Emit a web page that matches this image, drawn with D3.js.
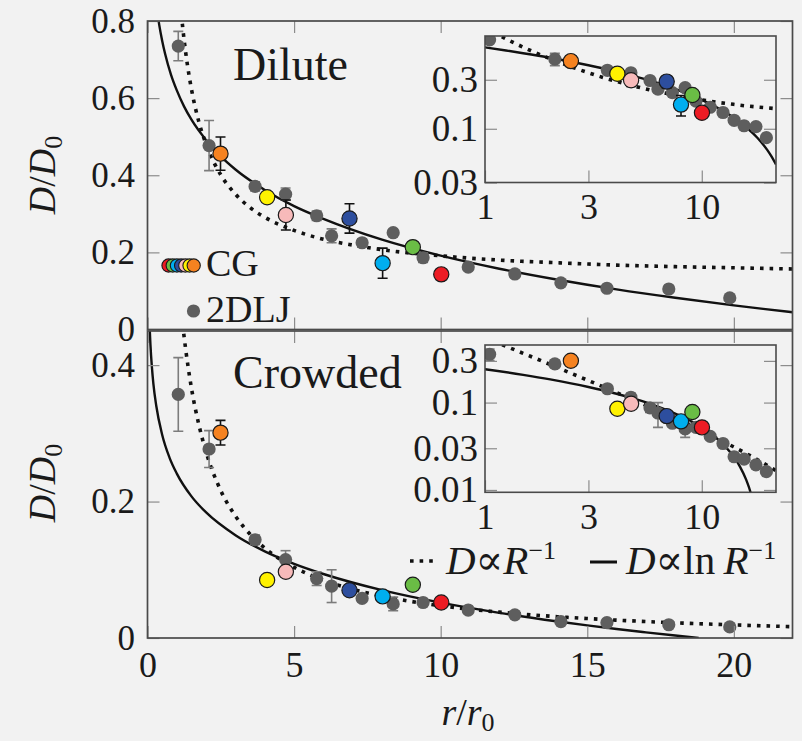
<!DOCTYPE html>
<html><head><meta charset="utf-8">
<script src="https://cdn.jsdelivr.net/npm/d3@7"></script>
<style>body{margin:0;background:#f2f2f2;} svg{display:block}</style>
</head><body>
<script>
// ---------------- DATA ----------------
const ljR = [1.05, 2.10, 3.67, 4.71, 5.77, 6.28, 7.32, 8.38, 9.40, 10.94, 12.53, 14.10, 15.67, 17.78, 19.86];
const ljDilute = [0.735, 0.477, 0.371, 0.351, 0.295, 0.243, 0.225, 0.251, 0.186, 0.162, 0.144, 0.121, 0.107, 0.105, 0.082];
const ljDiluteErr = [0.038, 0.065, 0.012, 0.016, 0.012, 0.018, 0.010, 0, 0.012, 0, 0, 0, 0, 0, 0];
const ljCrowded = [0.357, 0.277, 0.144, 0.115, 0.087, 0.076, 0.058, 0.050, 0.052, 0.041, 0.034, 0.024, 0.0225, 0.0194, 0.0162];
const ljCrowdedErr = [0.054, 0.027, 0.007, 0.013, 0.010, 0.024, 0.005, 0.010, 0, 0, 0, 0, 0, 0, 0];

const cgR = [2.49, 4.08, 4.72, 6.89, 8.02, 9.05, 10.02];
const cgDilute = [0.456, 0.343, 0.297, 0.288, 0.172, 0.2135, 0.143];
const cgDiluteErr = [0.043, 0.008, 0.039, 0.038, 0.039, 0, 0.012];
const cgCrowded = [0.301, 0.085, 0.097, 0.070, 0.061, 0.078, 0.052];
const cgCrowdedErr = [0.018, 0.006, 0.005, 0, 0, 0, 0];

// fitted curves
const lnDiluteR = [0.35, 0.4, 0.5, 0.6, 0.8, 1, 1.25, 1.5, 2, 2.5, 3, 4, 5, 6, 8, 10, 12, 14, 16, 18, 20, 21, 22];
const lnDilute  = [0.815, 0.790, 0.749, 0.715, 0.661, 0.620, 0.578, 0.544, 0.491, 0.449, 0.415, 0.362, 0.320, 0.287, 0.233, 0.1915, 0.1576, 0.129, 0.104, 0.0822, 0.0626, 0.0535, 0.0449];
const invDiluteR = [1.0, 1.05, 1.1, 1.15, 1.2, 1.3, 1.4, 1.5, 1.75, 2, 2.5, 3, 3.5, 4, 5, 6, 7, 8, 10, 12, 14, 16, 18, 20, 22];
const invDilute  = [0.967, 0.912, 0.864, 0.822, 0.784, 0.720, 0.667, 0.623, 0.539, 0.480, 0.401, 0.351, 0.316, 0.291, 0.257, 0.234, 0.219, 0.207, 0.191, 0.180, 0.173, 0.167, 0.163, 0.160, 0.157];
const lnCrowdedR = [0.07, 0.1, 0.15, 0.2, 0.3, 0.5, 0.75, 1, 1.5, 2, 3, 4, 5, 6, 8, 10, 12, 14, 15, 16, 17, 18, 18.8];
const lnCrowded  = [0.459, 0.430, 0.397, 0.373, 0.340, 0.298, 0.2645, 0.241, 0.2076, 0.184, 0.1507, 0.127, 0.1087, 0.0938, 0.0701, 0.0518, 0.0369, 0.0242, 0.0185, 0.0132, 0.0083, 0.0036, 0];
const invCrowdedR = [1.2, 1.25, 1.3, 1.4, 1.5, 1.75, 2, 2.5, 3, 3.5, 4, 5, 6, 7, 8, 10, 12, 14, 16, 18, 20, 22];
const invCrowded  = [0.460, 0.441, 0.424, 0.393, 0.366, 0.313, 0.2725, 0.216, 0.1787, 0.152, 0.1318, 0.1036, 0.0848, 0.0714, 0.0614, 0.0473, 0.0379, 0.0312, 0.0262, 0.0223, 0.0192, 0.0166];

const xTicks = [0, 5, 10, 15, 20];
const yTicksDilute = [0, 0.2, 0.4, 0.6, 0.8];
const yTicksCrowded = [0, 0.2, 0.4];
const insetXTicks = [1, 3, 10];
const insetYTicksDilute = [0.03, 0.1, 0.3];
const insetYTicksCrowded = [0.01, 0.03, 0.1, 0.3];

// ---------------- STYLE ----------------
const cgColors = ['#f58220', '#fff200', '#f7baba', '#2d4e9e', '#00aeef', '#6abd45', '#ed1c24'];
const FONT = "'Liberation Serif','DejaVu Serif',serif";
const BG = '#f2f2f2', FRAME = '#4a4a4a', TICK = '#8c8c8c', GRAY = '#5e5e5e', ERRG = '#7c7c7c';

const W = 802, H = 741;
const svg = d3.select('body').append('svg').attr('width', W).attr('height', H)
  .style('font-family', FONT);
svg.append('rect').attr('width', W).attr('height', H).attr('fill', BG);
const defs = svg.append('defs');

const x = d3.scaleLinear().domain([0, 22]).range([147.5, 792.5]);

const panels = [
  { id: 'dil', y: d3.scaleLinear().domain([0, 0.8]).range([329.5, 21]), yTicks: yTicksDilute,
    lj: ljDilute, ljErr: ljDiluteErr, cg: cgDilute, cgErr: cgDiluteErr,
    sR: lnDiluteR, sY: lnDilute, dR: invDiluteR, dY: invDilute,
    label: 'Dilute', lx: 233, ly: 80,
    ix: d3.scaleLog().domain([1, 22]).range([485, 776]),
    iy: d3.scaleLog().domain([0.03, 0.8]).range([182.5, 36]),
    iyTicks: insetYTicksDilute },
  { id: 'cro', y: d3.scaleLinear().domain([0, 0.45]).range([638, 331]), yTicks: yTicksCrowded,
    lj: ljCrowded, ljErr: ljCrowdedErr, cg: cgCrowded, cgErr: cgCrowdedErr,
    sR: lnCrowdedR, sY: lnCrowded, dR: invCrowdedR, dY: invCrowded,
    label: 'Crowded', lx: 233, ly: 388,
    ix: d3.scaleLog().domain([1, 22]).range([485, 776]),
    iy: d3.scaleLog().domain([0.0094, 0.456]).range([492.3, 345]),
    iyTicks: insetYTicksCrowded }
];

const fmtMain = d => d === 0 ? '0' : d3.format('.1f')(d);
const fmtInset = d => (d >= 0.1 ? d3.format('.1f')(d) : d3.format('.2f')(d));

function drawData(g, xs, ys, p, isLog, clipId) {
  const [x0, x1] = xs.range(), [y0, y1] = ys.range();
  defs.append('clipPath').attr('id', clipId).append('rect')
    .attr('x', x0).attr('y', Math.min(y0, y1)).attr('width', x1 - x0).attr('height', Math.abs(y0 - y1));
  const cg = g.append('g').attr('clip-path', `url(#${clipId})`);
  const ok = d => !isLog || (d[1] > 0);
  const line = d3.line().x(d => xs(d[0])).y(d => ys(d[1])).curve(d3.curveMonotoneX);
  const solid = p.sR.map((r, i) => [r, p.sY[i]]).filter(ok);
  const dotted = p.dR.map((r, i) => [r, p.dY[i]]).filter(ok);
  cg.append('path').attr('d', line(dotted)).attr('fill', 'none').attr('stroke', '#111')
    .attr('stroke-width', 3.6).attr('stroke-dasharray', '3.6,6');
  cg.append('path').attr('d', line(solid)).attr('fill', 'none').attr('stroke', '#111')
    .attr('stroke-width', 2.4);

  function errBar(r, v, e, col) {
    if (!e) return;
    const xp = xs(r), ya = ys(v + e), yb = ys(v - e);
    cg.append('line').attr('x1', xp).attr('x2', xp).attr('y1', ya).attr('y2', yb).attr('stroke', col).attr('stroke-width', 1.6);
    [ya, yb].forEach(yy => cg.append('line').attr('x1', xp - 5).attr('x2', xp + 5).attr('y1', yy).attr('y2', yy)
      .attr('stroke', col).attr('stroke-width', 1.6));
  }
  ljR.forEach((r, i) => errBar(r, p.lj[i], p.ljErr[i], ERRG));
  cg.selectAll(null).data(ljR.map((r, i) => [r, p.lj[i]])).join('circle')
    .attr('cx', d => xs(d[0])).attr('cy', d => ys(d[1])).attr('r', 6.6).attr('fill', GRAY);
  cgR.forEach((r, i) => errBar(r, p.cg[i], p.cgErr[i], '#111'));
  cg.selectAll(null).data(cgR.map((r, i) => [r, p.cg[i], cgColors[i]])).join('circle')
    .attr('cx', d => xs(d[0])).attr('cy', d => ys(d[1])).attr('r', 7.6)
    .attr('fill', d => d[2]).attr('stroke', '#1a1a1a').attr('stroke-width', 1.2);
}

function styleAxis(sel, size) {
  sel.select('.domain').remove();
  sel.selectAll('.tick line').attr('stroke', TICK).attr('stroke-width', 1.2);
  sel.selectAll('.tick text').attr('fill', '#1a1a1a').style('font-size', size + 'px').style('font-family', FONT);
}

panels.forEach((p, pi) => {
  const g = svg.append('g');
  const [yb, yt] = p.y.range();
  drawData(g, x, p.y, p, false, 'clip-' + p.id);
  const TL = 12;
  g.append('g').attr('transform', `translate(${x.range()[0]},0)`)
    .call(d3.axisLeft(p.y).tickValues(p.yTicks).tickSize(-TL).tickPadding(12.5).tickFormat(fmtMain))
    .call(s => styleAxis(s, 35));
  g.append('g').attr('transform', `translate(${x.range()[1]},0)`)
    .call(d3.axisRight(p.y).tickValues(p.yTicks).tickSize(-TL).tickFormat(''))
    .call(s => styleAxis(s, 35));
  g.append('g').attr('transform', `translate(0,${yt})`)
    .call(d3.axisTop(x).tickValues(xTicks).tickSize(-TL).tickFormat(''))
    .call(s => styleAxis(s, 35));
  g.append('g').attr('transform', `translate(0,${yb})`)
    .call(d3.axisBottom(x).tickValues(xTicks).tickSize(-TL).tickPadding(13).tickFormat(pi === 1 ? d3.format('d') : ''))
    .call(s => styleAxis(s, 36));
  g.append('rect').attr('x', x.range()[0]).attr('y', yt).attr('width', x.range()[1] - x.range()[0])
    .attr('height', yb - yt).attr('fill', 'none').attr('stroke', FRAME).attr('stroke-width', 1.7);

  g.append('text').attr('x', p.lx).attr('y', p.ly).text(p.label)
    .style('font-size', '46px').attr('fill', '#1a1a1a');

  // inset
  const ig = svg.append('g');
  const [ix0, ix1] = p.ix.range(), [iy0, iy1] = p.iy.range();
  ig.append('rect').attr('x', ix0).attr('y', iy1).attr('width', ix1 - ix0).attr('height', iy0 - iy1).attr('fill', BG);
  drawData(ig, p.ix, p.iy, p, true, 'iclip-' + p.id);
  ig.append('g').attr('transform', `translate(${ix0},0)`)
    .call(d3.axisLeft(p.iy).tickValues(p.iyTicks).tickSize(-TL).tickPadding(7).tickFormat(fmtInset))
    .call(s => styleAxis(s, 37));
  ig.append('g').attr('transform', `translate(${ix1},0)`)
    .call(d3.axisRight(p.iy).tickValues(p.iyTicks).tickSize(-TL).tickFormat(''))
    .call(s => styleAxis(s, 37));
  ig.append('g').attr('transform', `translate(0,${iy0})`)
    .call(d3.axisBottom(p.ix).tickValues(insetXTicks).tickSize(-TL).tickPadding(11).tickFormat(d3.format('d')))
    .call(s => styleAxis(s, 36));
  ig.append('rect').attr('x', ix0).attr('y', iy1).attr('width', ix1 - ix0).attr('height', iy0 - iy1)
    .attr('fill', 'none').attr('stroke', FRAME).attr('stroke-width', 1.6);
});

// ---------------- legends ----------------
const lg = svg.append('g');
const legendOrder = [6, 5, 4, 3, 2, 1, 0];
legendOrder.forEach((ci, k) => {
  lg.append('circle').attr('cx', 168.5 + k * 4.2).attr('cy', 265.5).attr('r', 6.6)
    .attr('fill', cgColors[ci]).attr('stroke', '#1a1a1a').attr('stroke-width', 1.1);
});
lg.append('text').attr('x', 206).attr('y', 276).text('CG').style('font-size', '38px').attr('fill', '#1a1a1a');
lg.append('circle').attr('cx', 193.5).attr('cy', 311).attr('r', 6.6).attr('fill', GRAY);
lg.append('text').attr('x', 206).attr('y', 322).text('2DLJ').style('font-size', '38px').attr('fill', '#1a1a1a');

lg.append('line').attr('x1', 410).attr('x2', 434).attr('y1', 561).attr('y2', 561)
  .attr('stroke', '#111').attr('stroke-width', 3.6).attr('stroke-dasharray', '3.6,6');
const t1 = lg.append('text').attr('x', 446).attr('y', 574).style('font-size', '41px').attr('fill', '#1a1a1a');
t1.append('tspan').style('font-style', 'italic').text('D');
t1.append('tspan').text('∝');
t1.append('tspan').style('font-style', 'italic').text('R');
t1.append('tspan').attr('dy', -15).style('font-size', '26px').text('−1');
lg.append('line').attr('x1', 590).attr('x2', 617).attr('y1', 562).attr('y2', 562)
  .attr('stroke', '#111').attr('stroke-width', 3);
const t2 = lg.append('text').attr('x', 626).attr('y', 574).style('font-size', '41px').attr('fill', '#1a1a1a');
t2.append('tspan').style('font-style', 'italic').text('D');
t2.append('tspan').text('∝ln\u2009');
t2.append('tspan').style('font-style', 'italic').text('R');
t2.append('tspan').attr('dy', -15).style('font-size', '26px').text('−1');

// axis titles
[175, 483].forEach(cy => {
  const t = svg.append('text').attr('transform', `translate(55,${cy}) rotate(-90)`)
    .attr('text-anchor', 'middle').style('font-size', '38px').attr('fill', '#1a1a1a');
  t.append('tspan').style('font-style', 'italic').text('D');
  t.append('tspan').text('/');
  t.append('tspan').style('font-style', 'italic').text('D');
  t.append('tspan').attr('dy', 7).style('font-size', '26px').text('0');
});
const xt = svg.append('text').attr('x', 468).attr('y', 725).attr('text-anchor', 'middle')
  .style('font-size', '38px').attr('fill', '#1a1a1a');
xt.append('tspan').style('font-style', 'italic').text('r');
xt.append('tspan').text('/');
xt.append('tspan').style('font-style', 'italic').text('r');
xt.append('tspan').attr('dy', 6).style('font-size', '26px').text('0');
</script>
</body></html>
